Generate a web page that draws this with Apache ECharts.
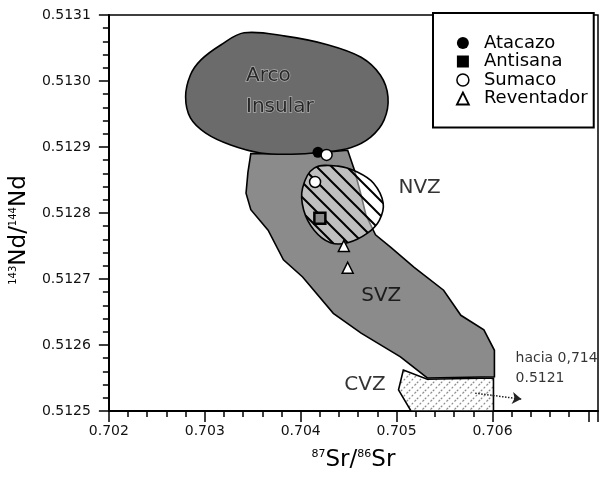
<!DOCTYPE html>
<html>
<head>
<meta charset="utf-8">
<script src="https://cdn.jsdelivr.net/npm/echarts@6.0.0/dist/echarts.min.js"></script>
<style>
html, body { margin: 0; padding: 0; background: #fff; }
#chart { width: 603px; height: 481px; }
</style>
</head>
<body>
<div id="chart"></div>
<script>
// muestras (87Sr/86Sr , 143Nd/144Nd)
var atacazoX = [0.70418];
var atacazoY = [0.512892];
var antisanaX = [0.70420];
var antisanaY = [0.512792];
var sumacoX = [0.70427, 0.70415];
var sumacoY = [0.512888, 0.512847];
var reventadorX = [0.70445, 0.70449];
var reventadorY = [0.512750, 0.512717];

// campos
var arcoX = [0.70341, 0.70384, 0.70428, 0.70463, 0.70483, 0.70491, 0.70487, 0.70473, 0.70452, 0.70421,
             0.70390, 0.70358, 0.70327, 0.70301, 0.70285, 0.70280, 0.70285, 0.70296, 0.70317];
var arcoY = [0.513073, 0.513068, 0.513055, 0.513036, 0.513009, 0.512976, 0.512941, 0.512915, 0.512899, 0.512892,
             0.512889, 0.512891, 0.512903, 0.512921, 0.512944, 0.512976, 0.513009, 0.513032, 0.513055];

var svzX = [0.70348, 0.70390, 0.70426, 0.70449, 0.70456, 0.70463, 0.70468, 0.70478, 0.70494, 0.70518,
            0.70549, 0.70567, 0.70591, 0.70602, 0.70602, 0.70532, 0.70504, 0.70463, 0.70434, 0.70402,
            0.70382, 0.70366, 0.70348, 0.70343, 0.70345];
var svzY = [0.512890, 0.512890, 0.512892, 0.512895, 0.512865, 0.512827, 0.512797, 0.512767, 0.512748, 0.512718,
            0.512683, 0.512645, 0.512623, 0.512592, 0.512552, 0.512550, 0.512582, 0.512618, 0.512648, 0.512703,
            0.512729, 0.512774, 0.512805, 0.512830, 0.512862];

var nvzX = [0.70414, 0.70439, 0.70459, 0.70476, 0.70486, 0.70482, 0.70470, 0.70449, 0.70431, 0.70414, 0.70403, 0.70402];
var nvzY = [0.512868, 0.512871, 0.512862, 0.512845, 0.512815, 0.512789, 0.512770, 0.512755, 0.512755, 0.512774, 0.512805, 0.512838];

var cvzX = [0.70507, 0.70532, 0.70601, 0.70601, 0.70515, 0.70502];
var cvzY = [0.512562, 0.512548, 0.512550, 0.512500, 0.512500, 0.512532];

// rotulos
var labelText = ['Arco\nInsular', 'NVZ', 'SVZ', 'CVZ', 'hacia 0,714\n0.5121'];
var labelX = [0.70343, 0.70524, 0.70484, 0.70467, 0.70624];
var labelY = [0.512985, 0.512838, 0.512674, 0.512539, 0.512565];

// flecha hacia 0,714
var arrowX = [0.70582, 0.70630];
var arrowY = [0.512527, 0.512518];

var xTicks = [0.702, 0.703, 0.704, 0.705, 0.706];

var FONT = 'DejaVu Sans';

function pairs(xs, ys) {
	var out = [];
	for (var i = 0; i < xs.length; i++) {
		out.push([xs[i], ys[i]]);
	}
	return out;
}

//trama de rayas
function hatch(size, bg, color, lw, dir, dash) {
	var c = document.createElement('canvas');
	c.width = size; c.height = size;
	var g = c.getContext('2d');
	if (bg) { g.fillStyle = bg; g.fillRect(0, 0, size, size); }
	g.strokeStyle = color;
	g.lineWidth = lw;
	if (dash) g.setLineDash(dash);
	g.beginPath();
	if (dir == '\\') {
		g.moveTo(-2, -2); g.lineTo(size + 2, size + 2);
		g.moveTo(size - 3, -3); g.lineTo(size + 3, 3);
		g.moveTo(-3, size - 3); g.lineTo(3, size + 3);
	} else {
		g.moveTo(-2, size + 2); g.lineTo(size + 2, -2);
		g.moveTo(-3, 3); g.lineTo(3, -3);
		g.moveTo(size - 3, size + 3); g.lineTo(size + 3, size - 3);
	}
	g.stroke();
	return { image: c, repeat: 'repeat' };
}

function field(name, xs, ys, fill, smooth, z) {
	var pts = pairs(xs, ys);
	return {
		type: 'custom',
		name: name,
		silent: true,
		z: z,
		data: [pts[0]],
		encode: { x: 0, y: 1 },
		renderItem: function (params, api) {
			var p = [];
			for (var i = 0; i < pts.length; i++) p.push(api.coord(pts[i]));
			return {
				type: 'polygon',
				shape: { points: p, smooth: smooth },
				style: { fill: fill, stroke: '#000', lineWidth: 1.6 }
			};
		}
	};
}

var myChart = echarts.init(document.getElementById('chart'));

var labelData = [];
for (var i = 0; i < labelText.length; i++) {
	var item = { name: labelText[i], value: [labelX[i], labelY[i]] };
	if (i == 0) {
		item.label = { position: 'right', distance: 0, lineHeight: 31, fontSize: 20,
			color: '#0a0a0a', textBorderColor: '#bdbdbd', textBorderWidth: 1.5 };
	}
	if (i == 4) {
		item.label = { position: 'right', distance: 0, fontSize: 14, lineHeight: 20, color: '#000' };
	}
	labelData.push(item);
}

var option = {
	backgroundColor: '#fff',
	textStyle: { fontFamily: FONT },
	animation: false,
	grid: {
		left: 108, right: 5, top: 15, bottom: 70,
		show: true, borderColor: '#000', borderWidth: 1.5
	},
	legend: {
		orient: 'vertical',
		left: 433, top: 13,
		padding: [21, 6, 20, 23],
		itemWidth: 12, itemHeight: 12, itemGap: 0.5,
		borderColor: '#000', borderWidth: 2,
		backgroundColor: '#fff',
		formatter: function (name) { return '{g|}' + name; },
		textStyle: {
			fontSize: 18, color: '#000', lineHeight: 18, fontFamily: FONT,
			rich: { g: { width: 10 } }
		},
		data: [
			{ name: 'Atacazo', icon: 'circle', itemStyle: { color: '#000', borderWidth: 0 } },
			{ name: 'Antisana', icon: 'rect', itemStyle: { color: '#000', borderWidth: 0 } },
			{ name: 'Sumaco', icon: 'circle', itemStyle: { color: '#fff', borderColor: '#000', borderWidth: 1.5 } },
			{ name: 'Reventador', icon: 'triangle', itemStyle: { color: '#fff', borderColor: '#000', borderWidth: 1.8 } }
		]
	},
	xAxis: {
		type: 'value',
		min: 0.702, max: 0.7071, interval: 0.001,
		name: '{s|87}{b|Sr/}{s|86}{b|Sr}',
		nameLocation: 'middle', nameGap: 38,
		nameTextStyle: {
			rich: {
				s: { fontSize: 11, verticalAlign: 'top', fontFamily: FONT, color: '#000', padding: [0, 0, 10, 0] },
				b: { fontSize: 23, fontFamily: FONT, color: '#000' }
			}
		},
		axisLine: { lineStyle: { color: '#000', width: 2 } },
		axisTick: { length: 11, lineStyle: { color: '#000', width: 1.5 } },
		minorTick: { show: true, splitNumber: 5, length: 6, lineStyle: { color: '#000', width: 1.5 } },
		splitLine: { show: false },
		axisLabel: {
			margin: 13, fontSize: 14, color: '#111', fontFamily: FONT,
			formatter: function (v) {
				for (var k = 0; k < xTicks.length; k++) {
					if (Math.abs(v - xTicks[k]) < 1e-7) return xTicks[k].toFixed(3);
				}
				return '';
			}
		}
	},
	yAxis: {
		type: 'value',
		min: 0.5125, max: 0.5131, interval: 0.0001,
		name: '{s|143}{b|Nd/}{s|144}{b|Nd}',
		nameLocation: 'middle', nameRotate: 90, nameGap: 72,
		nameTextStyle: {
			padding: [0, 34, 0, 0],
			rich: {
				s: { fontSize: 10, verticalAlign: 'top', fontFamily: FONT, color: '#000', padding: [0, 0, 10, 0] },
				b: { fontSize: 23, fontFamily: FONT, color: '#000' }
			}
		},
		axisLine: { lineStyle: { color: '#000', width: 2 } },
		axisTick: { length: 10, lineStyle: { color: '#000', width: 1.5 } },
		minorTick: { show: true, splitNumber: 5, length: 6, lineStyle: { color: '#000', width: 1.5 } },
		splitLine: { show: false },
		axisLabel: {
			margin: 18, fontSize: 14, color: '#111', fontFamily: FONT,
			formatter: function (v) { return v.toFixed(4); }
		}
	},
	series: [
		field('SVZ', svzX, svzY, '#8b8b8b', 0, 1),
		field('Arco Insular', arcoX, arcoY, '#6b6b6b', 0.35, 2),
		field('NVZ', nvzX, nvzY, hatch(15, 'rgba(255,255,255,0.45)', '#000', 2, '\\'), 0.35, 3),
		field('CVZ', cvzX, cvzY, hatch(8, '#fff', '#8a8a8a', 1.2, '/', [2, 2]), 0, 3),
		{
			type: 'scatter', name: 'rotulos', silent: true, z: 4,
			symbolSize: 0,
			data: labelData,
			label: {
				show: true, position: 'inside', formatter: '{b}',
				fontSize: 20, color: '#000', fontFamily: FONT
			},
			markLine: {
				silent: true,
				symbol: ['none', 'arrow'], symbolSize: 9,
				label: { show: false },
				lineStyle: { type: 'dotted', color: '#222', width: 1.5 },
				data: [[{ coord: [arrowX[0], arrowY[0]] }, { coord: [arrowX[1], arrowY[1]] }]]
			}
		},
		{
			type: 'scatter', name: 'Atacazo', z: 5,
			symbol: 'circle', symbolSize: 11,
			itemStyle: { color: '#000', opacity: 1 },
			data: pairs(atacazoX, atacazoY)
		},
		{
			type: 'scatter', name: 'Antisana', z: 5,
			symbol: 'rect', symbolSize: 11,
			itemStyle: { color: '#8a8a8a', borderColor: '#000', borderWidth: 2.5, opacity: 1 },
			data: pairs(antisanaX, antisanaY)
		},
		{
			type: 'scatter', name: 'Sumaco', z: 6,
			symbol: 'circle', symbolSize: 11,
			itemStyle: { color: '#fff', borderColor: '#000', borderWidth: 1.5, opacity: 1 },
			data: pairs(sumacoX, sumacoY)
		},
		{
			type: 'scatter', name: 'Reventador', z: 5,
			symbol: 'triangle', symbolSize: 11,
			itemStyle: { color: '#fff', borderColor: '#000', borderWidth: 1.5, opacity: 1 },
			data: pairs(reventadorX, reventadorY)
		}
	]
};

myChart.setOption(option);
</script>
</body>
</html>
